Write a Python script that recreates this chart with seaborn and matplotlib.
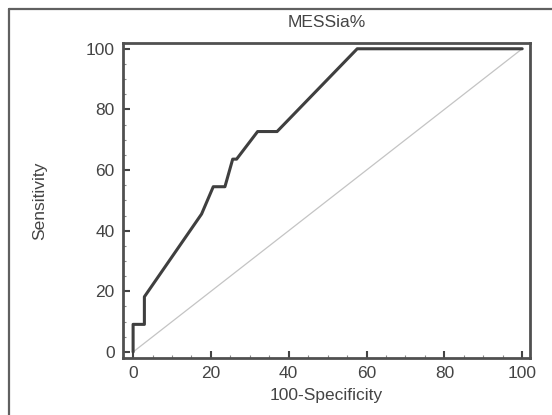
import numpy as np
import pandas as pd
import matplotlib
matplotlib.use("Agg")
import matplotlib.pyplot as plt
from matplotlib.lines import Line2D
from matplotlib.ticker import MultipleLocator
import seaborn as sns

sns.set_theme(style='white')
plt.rcParams['font.family'] = ['Liberation Sans', 'DejaVu Sans']

# ROC curve
fpr = [0, 0, 2.9, 2.9, 17.6, 20.6, 23.6, 25.6, 26.6, 32.0, 37.0, 57.6, 100]
tpr = [0, 9.1, 9.1, 18.2, 45.5, 54.5, 54.5, 63.6, 63.6, 72.7, 72.7, 100, 100]
diag = [0, 100]

df = pd.DataFrame({'x': fpr, 'y': tpr})
txt = '#444444'
fs = 12.5

fig = plt.figure(figsize=(5.52, 4.15), dpi=100)
ax = fig.add_axes([0.2228, 0.1373, 0.9601 - 0.2228, 0.8971 - 0.1373])

sns.lineplot(x=diag, y=diag, ax=ax, color='#c4c4c4', linewidth=0.9)
sns.lineplot(data=df, x='x', y='y', sort=False, estimator=None, ax=ax,
             color='#3f3f3f', linewidth=2.2)

ax.set_xlim(-2.6, 102)
ax.set_ylim(-2.0, 102)
ax.xaxis.set_major_locator(MultipleLocator(20))
ax.yaxis.set_major_locator(MultipleLocator(20))
ax.xaxis.set_minor_locator(MultipleLocator(5))
ax.yaxis.set_minor_locator(MultipleLocator(5))
ax.tick_params(which='major', direction='in', length=5, width=1.5,
               color='#444444', labelsize=fs, labelcolor=txt, pad=6)
ax.tick_params(which='minor', direction='in', length=2.5, width=0.8,
               color='#888888')
ax.tick_params(bottom=True, left=True, which='both')

for s in ax.spines.values():
    s.set_color('#505050')
    s.set_linewidth(2.0)

ax.text(0.5, 1 + 20.7 / 315.3, 'MESSia%', transform=ax.transAxes,
        ha='center', va='center', fontsize=fs, color=txt)
ax.set_xlabel('100-Specificity', fontsize=fs, color=txt)
ax.set_ylabel('Sensitivity', fontsize=fs, color=txt)
ax.xaxis.set_label_coords(0.5, -0.12)
ax.xaxis.label.set_va('center')
ax.yaxis.set_label_coords(-0.204, 0.5)
ax.yaxis.label.set_va('center')

# outer frame
fig.add_artist(Line2D([9 / 552, 9 / 552], [0, 1 - 9 / 415], transform=fig.transFigure,
                      color='#606060', linewidth=1.6))
fig.add_artist(Line2D([9 / 552, 1], [1 - 9 / 415, 1 - 9 / 415], transform=fig.transFigure,
                      color='#606060', linewidth=1.6))

fig.savefig('out.png', dpi=100)
